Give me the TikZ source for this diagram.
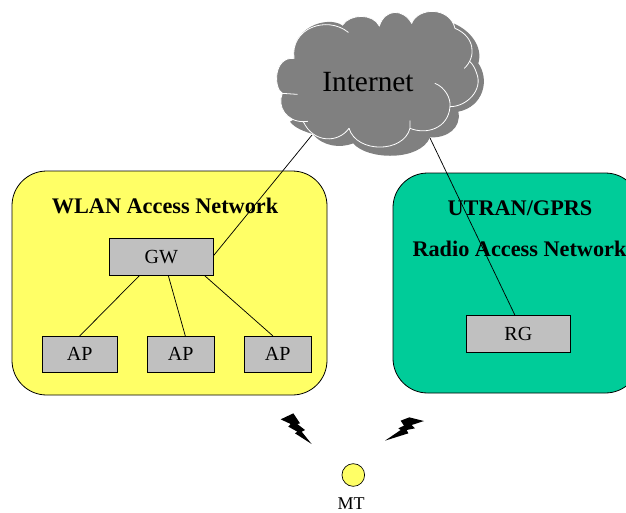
\documentclass[tikz,border=0pt]{standalone}
\usepackage{fontspec}
\setmainfont{Liberation Serif}
\definecolor{cloudgray}{RGB}{128,128,128}
\definecolor{boxgray}{RGB}{192,192,192}
\definecolor{wlanyellow}{RGB}{255,255,102}
\definecolor{utrangreen}{RGB}{0,204,153}
\tikzset{
  px/.style={x=0.75pt,y=-0.75pt},
  netbox/.style={draw=black,line width=0.6pt,rounded corners=26pt},
  unitbox/.style={draw=black,line width=0.5pt,fill=boxgray,inner sep=0pt,font=\fontsize{15}{18}\selectfont,anchor=north west},
  link/.style={draw=black,line width=0.55pt},
  nettitle/.style={font=\fontsize{16.7}{20}\selectfont\bfseries,inner sep=0pt},
  bolt/.style={fill=black,draw=none},
  puff/.style={draw=white,line width=0.6pt,line cap=round}
}
\begin{document}
\begin{tikzpicture}[px]
\useasboundingbox (0,0) rectangle (626,512);
\begin{scope}
\clip (0,0) rectangle (626,512);
\draw[netbox,fill=wlanyellow] (12,171) rectangle (327,395);
\draw[netbox,fill=utrangreen] (393,173) rectangle (640,393);
\end{scope}
\node[nettitle] (wlan) at (165,205.5) {WLAN Access Network};
\node[nettitle] (utran) at (520,208) {UTRAN/GPRS};
\node[nettitle] (radio) at (519.5,248.5) {Radio Access Network};
\node[unitbox,minimum width=78pt,minimum height=27.75pt] (gw) at (109,238) {GW};
\node[unitbox,minimum width=56pt,minimum height=27pt] (ap1) at (42,336) {AP};
\node[unitbox,minimum width=50pt,minimum height=27pt] (ap2) at (147,336) {AP};
\node[unitbox,minimum width=50pt,minimum height=27pt] (ap3) at (244,336) {AP};
\node[unitbox,minimum width=78pt,minimum height=27.75pt] (rg) at (466,315) {RG};
\coordinate (cloudL) at (312,135);
\coordinate (cloudR) at (430,138);
\draw[link] (cloudL) -- ([yshift=1pt]gw.east);
\draw[link] (cloudR) -- ([xshift=-2.6pt]rg.north);
\draw[link] ([xshift=-16.5pt]gw.south) -- (ap1.north);
\draw[link] ([xshift=5.25pt]gw.south) -- ([xshift=3.5pt]ap2.north);
\draw[link] ([xshift=32.5pt]gw.south) -- ([xshift=-3.5pt]ap3.north);
\begin{scope}[shift={(260,0)},x=0.25pt,y=-0.25pt]
% back cloud
\fill[cloudgray] (580,70) .. controls (630,90) and (670,140) .. (655,190)
  .. controls (690,240) and (670,320) .. (595,335)
  .. controls (605,385) and (560,415) .. (510,412)
  .. controls (480,485) and (320,480) .. (280,430)
  .. controls (240,445) and (190,440) .. (158,402)
  .. controls (135,395) and (105,385) .. (90,365) -- (400,200) -- cycle;
% front cloud
\fill[cloudgray] (102,175)
  .. controls (40,170) and (40,265) .. (67,280)
  .. controls (50,320) and (80,365) .. (130,365)
  .. controls (160,430) and (235,430) .. (267,385)
  .. controls (290,460) and (430,460) .. (450,385)
  .. controls (500,405) and (565,385) .. (570,320)
  .. controls (620,320) and (670,270) .. (650,220)
  .. controls (645,205) and (640,195) .. (630,185)
  .. controls (650,150) and (635,105) .. (585,85)
  .. controls (570,20) and (475,20) .. (455,70)
  .. controls (430,25) and (375,25) .. (358,78)
  .. controls (340,40) and (270,40) .. (247,76)
  .. controls (200,45) and (90,85) .. (102,175) -- cycle;
% white outline of the lobes
\draw[puff] (102,175) .. controls (40,170) and (40,265) .. (67,280) -- (112,283);
\draw[puff] (67,280) .. controls (50,320) and (80,365) .. (130,365) -- (143,364);
\draw[puff] (130,365) .. controls (160,430) and (235,430) .. (267,385);
\draw[puff] (267,385) .. controls (290,460) and (430,460) .. (450,385) -- (450,362);
\draw[puff] (450,385) .. controls (500,405) and (565,385) .. (570,320)
  .. controls (573,295) and (555,262) .. (525,250);
\draw[puff] (570,320) .. controls (620,320) and (670,270) .. (650,220)
  .. controls (645,205) and (640,195) .. (630,185);
\draw[puff] (613,205) .. controls (650,170) and (645,110) .. (585,85)
  .. controls (570,20) and (475,20) .. (455,70);
\draw[puff] (455,70) .. controls (430,25) and (375,25) .. (358,78);
\draw[puff] (358,78) .. controls (340,40) and (270,40) .. (247,76);
\draw[puff] (265,97) .. controls (200,45) and (90,85) .. (102,175);
\end{scope}
\node[inner sep=0pt,font=\fontsize{22}{26}\selectfont] (inet) at (368,82) {Internet};
\begin{scope}[shift={(260,400)},x=0.25pt,y=-0.25pt]
\fill[bolt] (62,58) -- (100,40) -- (120,70) -- (112,72) -- (135,90) -- (125,95) -- (155,132) -- (105,100) -- (112,95) -- (85,80) -- (92,72) -- cycle;
\fill[bolt] (375,122) -- (422,90) -- (415,85) -- (432,77) -- (422,62) -- (448,52) -- (492,63) -- (455,75) -- (465,85) -- (440,90) -- (445,100) -- cycle;
\end{scope}
\node[circle,draw=black,line width=0.5pt,fill=wlanyellow,minimum size=17pt,inner sep=0pt] (mt) at (353.3,475) {};
\node[inner sep=0pt,font=\fontsize{13.5}{16}\selectfont] (mtlabel) at (351,503.5) {MT};
\end{tikzpicture}
\end{document}
